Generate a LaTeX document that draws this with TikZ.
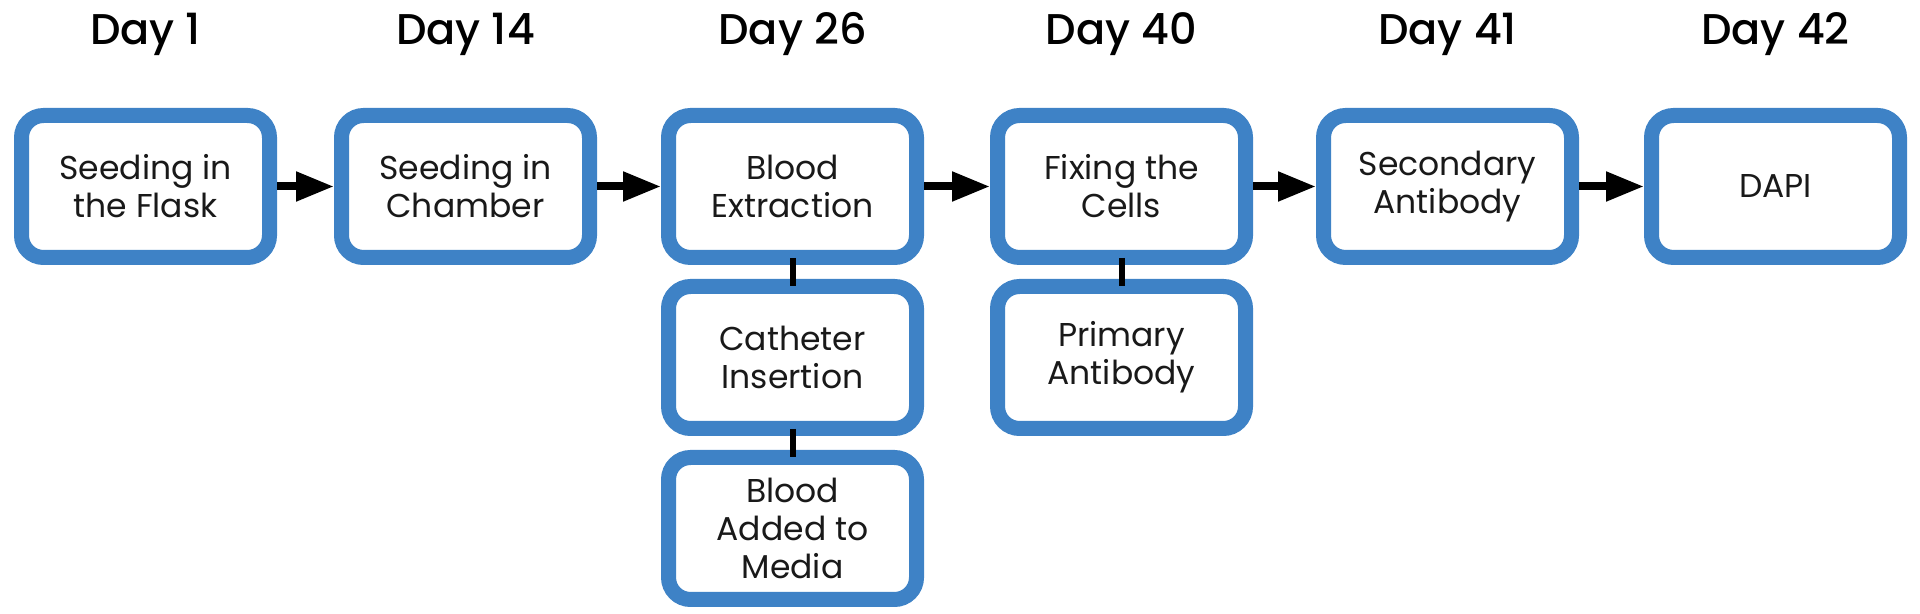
\documentclass[tikz,border=0pt]{standalone}
\usepackage{fontspec}
\setmainfont{Poppins}
\newfontfamily\dayFont{Poppins Medium}
\usetikzlibrary{arrows.meta, positioning, calc}
\definecolor{stageBlue}{RGB}{62,130,198}
\newcommand{\lineWidth}{7.5pt}
\newcommand{\boxWidth}{124pt}
\newcommand{\boxHeight}{71pt}
\newcommand{\linkWidth}{3pt}
\newcommand{\arrowTip}{{Triangle[length=19pt, width=14pt]}}
\tikzstyle{stage}=[draw=stageBlue, fill=white, line width=\lineWidth, rounded corners=11pt, minimum width=\boxWidth, minimum height=\boxHeight, align=center, inner sep=0, font=\fontsize{16.5}{19}\selectfont, text=black!90]
\tikzstyle{dayLabel}=[anchor=base, inner sep=0, font=\fontsize{21.5}{24}\selectfont\dayFont]
\tikzstyle{link}=[draw=black, line width=\linkWidth, shorten <=-3.5pt, shorten >=-3.5pt]
\tikzstyle{arrow}=[draw=black, line width=4pt, -\arrowTip]

\begin{document}
\begin{tikzpicture}[x=0.5pt, y=0.5pt]

% Frame
\useasboundingbox (0,0) rectangle (1920,614);

% Top row
\node[stage] (seedFlask) at (145.5,427.5) {Seeding in\\the Flask};
\node[stage] (seedChamber) at (465.5,427.5) {Seeding in\\Chamber};
\node[stage] (bloodExtract) at (792.5,427.5) {Blood\\Extraction};
\node[stage] (fixCells) at (1121.5,427.5) {Fixing the\\Cells};
\node[stage] (secondAb) at (1447.5,427.5) {Secondary\\Antibody};
\node[stage] (dapi) at (1775.5,427.5) {DAPI};

% Branches
\node[stage, below=7pt of bloodExtract] (catheter) {Catheter\\Insertion};
\node[stage, below=7pt of catheter] (bloodMedia) {Blood\\Added to\\Media};
\node[stage, below=7pt of fixCells] (primaryAb) {Primary\\Antibody};

% Days
\foreach \s/\d in {seedFlask/1, seedChamber/14, bloodExtract/26, fixCells/40, secondAb/41, dapi/42} {
  \node[dayLabel] (day\d) at ([yshift=31.5pt]\s.north) {Day \d};
}

% Arrows
\foreach \a/\b in {seedFlask/seedChamber, seedChamber/bloodExtract, bloodExtract/fixCells, fixCells/secondAb, secondAb/dapi} {
  \draw[arrow] (\a.east) -- (\b.west);
}

% Links
\draw[link] (bloodExtract.south) -- (catheter.north);
\draw[link] (catheter.south) -- (bloodMedia.north);
\draw[link] (fixCells.south) -- (primaryAb.north);

\end{tikzpicture}
\end{document}
